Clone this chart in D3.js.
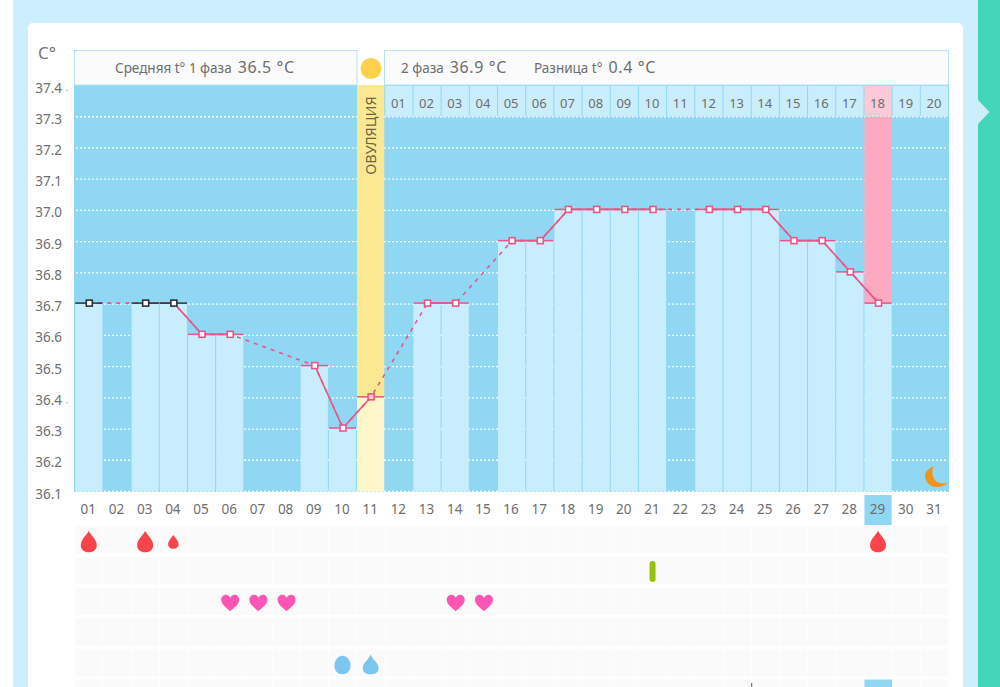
<!DOCTYPE html>
<html>
<head>
<meta charset="utf-8">
<script src="https://cdn.jsdelivr.net/npm/d3@7"></script>
<style>
  html, body { margin: 0; padding: 0; background: #fff; overflow: hidden; }
  text { font-family: "Noto Sans", sans-serif; fill: #6e6e6e; }
</style>
</head>
<body>
<div id="chart"></div>
<script>
const svgWidth = 1000
const svgHeight = 687

// Values
const days = d3.range(1, 32).map(d => String(d).padStart(2, "0"))
const temps = [36.7, null, 36.7, 36.7, 36.6, 36.6, null, null, 36.5, 36.3, 36.4, null, 36.7, 36.7, null,
  36.9, 36.9, 37.0, 37.0, 37.0, 37.0, null, 37.0, 37.0, 37.0, 36.9, 36.9, 36.8, 36.7, null, null]
const excludedDays = ["01", "03", "04"]
const yTicks = [37.4, 37.3, 37.2, 37.1, 37.0, 36.9, 36.8, 36.7, 36.6, 36.5, 36.4, 36.3, 36.2, 36.1]
const cycleDays = d3.range(1, 21).map(d => String(d).padStart(2, "0"))
const ovulationDay = "11"
const peakDay = "29"
const peakCycleDay = "18"
const todayDay = "31"

// Symptom rows under the chart: [day, size]
const rows = ["flow", "test", "sex", "other", "mucus", "extra"]
const flowMarks = [["01", 1], ["03", 1], ["04", 0.65], ["29", 1]]
const testMarks = [["21", 1]]
const sexMarks = [["06", 1], ["07", 1], ["08", 1], ["14", 1], ["15", 1]]
const mucusRound = [["10", 1]]
const mucusDrop = [["11", 1]]

const colors = {
  page: "#cdeefd",
  teal: "#43d6bc",
  plot: "#8fd7f3",
  bar: "#c8edfc",
  cell: "#c9edfb",
  header: "#fbfbfb",
  line: "#e8578a",
  black: "#2b3238",
  pink: "#fda9c0",
  pinkLight: "#fdc9d6",
  yellow: "#fbe992",
  yellowLight: "#fdf6c9",
  sun: "#fdd14c",
  flow: "#f9444a",
  heart: "#fb55b5",
  mucus: "#7cc5f1",
  test: "#95c20c",
  moon: "#f0921c",
  grid: "#fafafa"
}

let svg = d3.select("#chart").append("svg")
  .attr("width", svgWidth)
  .attr("height", svgHeight)
  .style("display", "block")

let x = d3.scaleBand().domain(days).range([75.2, 949])
let y = d3.scaleLinear().domain([36.1, 37.4]).range([491.5, 85.5])
let rowY = d3.scaleBand().domain(rows).range([526, 526 + 6 * 30.7])
let cx = d => x(d) + x.bandwidth() / 2

// Page panels
svg.append("rect").attr("x", 13).attr("y", 0).attr("width", 965).attr("height", svgHeight).attr("fill", colors.page)
svg.append("rect").attr("x", 978).attr("y", 0).attr("width", 22).attr("height", svgHeight).attr("fill", colors.teal)
svg.append("path").attr("d", "M978,100L989.5,112L978,124Z").attr("fill", colors.page)
svg.append("rect").attr("x", 28).attr("y", 23).attr("width", 935).attr("height", 700).attr("rx", 5).attr("fill", "#fff")

// Plot background and gridlines
svg.append("rect").attr("x", 74).attr("y", 85).attr("width", 875).attr("height", 407).attr("fill", colors.plot)

svg.append("g").selectAll("line")
  .data(yTicks.filter(d => d < 37.4))
  .enter()
  .append("line")
  .attr("x1", 76)
  .attr("x2", 948)
  .attr("y1", d => y(d))
  .attr("y2", d => y(d))
  .attr("stroke", "#fff")
  .attr("stroke-opacity", 0.9)
  .attr("stroke-width", 1.3)
  .attr("stroke-dasharray", "2 2")

// Ovulation and peak columns
svg.append("rect").attr("x", x(ovulationDay)).attr("y", 85).attr("width", x.bandwidth() - 1)
  .attr("height", y(36.4) - 85).attr("fill", colors.yellow)
svg.append("rect").attr("x", x(ovulationDay)).attr("y", y(36.4)).attr("width", x.bandwidth() - 1)
  .attr("height", y(36.1) - y(36.4)).attr("fill", colors.yellowLight)
svg.append("rect").attr("x", x(peakDay)).attr("y", 117).attr("width", x.bandwidth() - 1)
  .attr("height", y(36.7) - 117).attr("fill", colors.pink)

// Bars under the temperature
let barData = days.map((d, i) => ({ day: d, temp: temps[i] }))
  .filter(d => d.temp !== null && d.day !== ovulationDay)

svg.append("g").selectAll("rect")
  .data(barData)
  .enter()
  .append("rect")
  .attr("x", d => x(d.day))
  .attr("y", d => y(d.temp) - 1)
  .attr("width", x.bandwidth() - 1)
  .attr("height", d => y(36.1) - y(d.temp) + 1)
  .attr("fill", colors.bar)

// Header boxes
let headerBox = (left, right) => svg.append("rect")
  .attr("x", left).attr("y", 50.5).attr("width", right - left).attr("height", 34.5)
  .attr("fill", colors.header).attr("stroke", "#b5e3f4").attr("stroke-width", 1)
headerBox(74.5, 357)
headerBox(384.5, 948.5)
svg.append("circle").attr("cx", 371).attr("cy", 68.5).attr("r", 10.5).attr("fill", colors.sun)

let headerText = (xPos, label, value) => {
  let t = svg.append("text").attr("x", xPos).attr("y", 73).style("font-size", "13.5px")
  t.append("tspan").text(label)
  t.append("tspan").attr("dx", 6).style("font-size", "16px").style("letter-spacing", "0.6px").text(value)
}
headerText(115, "Средняя t° 1 фаза", "36.5 °C")
headerText(401, "2 фаза", "36.9 °C")
headerText(534, "Разница t°", "0.4 °C")

svg.append("text")
  .attr("transform", `translate(375.5,135.5) rotate(-90)`)
  .attr("text-anchor", "middle")
  .style("font-size", "14.5px")
  .style("fill", "#6b6648")
  .text("ОВУЛЯЦИЯ")

// Cycle day strip along the top
let cycleX = d3.scaleBand().domain(cycleDays).range([x("12"), 949])

svg.append("g").selectAll("rect")
  .data(cycleDays)
  .enter()
  .append("rect")
  .attr("x", d => cycleX(d))
  .attr("y", 86)
  .attr("width", cycleX.bandwidth() - 1)
  .attr("height", 30.5)
  .attr("fill", d => d === peakCycleDay ? colors.pinkLight : colors.cell)

svg.append("g").selectAll("text")
  .data(cycleDays)
  .enter()
  .append("text")
  .attr("x", d => cycleX(d) + cycleX.bandwidth() / 2 - 1)
  .attr("y", 108)
  .attr("text-anchor", "middle")
  .style("font-size", "13px")
  .text(d => d)

// Left axis labels
svg.append("text").attr("x", 38).attr("y", 59).style("font-size", "17px").style("fill", "#777").text("C°")

svg.append("g").selectAll("text")
  .data(yTicks)
  .enter()
  .append("text")
  .attr("x", 62)
  .attr("y", d => y(d) + 7)
  .attr("text-anchor", "end")
  .style("font-size", "13.5px")
  .text(d => d.toFixed(1))

// Little specks beside two of the labels
svg.append("g").selectAll("circle")
  .data([37.4, 36.4])
  .enter()
  .append("circle")
  .attr("cx", 67)
  .attr("cy", d => y(d) + 5)
  .attr("r", 0.8)
  .attr("fill", "#aaa")

// Bottom day labels
svg.append("rect").attr("x", x(peakDay)).attr("y", 495).attr("width", x.bandwidth() - 1).attr("height", 30).attr("fill", colors.plot)

svg.append("g").selectAll("text")
  .data(days)
  .enter()
  .append("text")
  .attr("x", d => cx(d) - 1)
  .attr("y", 514)
  .attr("text-anchor", "middle")
  .style("font-size", "13.5px")
  .text(d => d)

// Symptom grid
let cells = rows.flatMap(r => days.map(d => ({ row: r, day: d })))

svg.append("g").selectAll("rect")
  .data(cells)
  .enter()
  .append("rect")
  .attr("x", d => x(d.day))
  .attr("y", d => rowY(d.row))
  .attr("width", x.bandwidth() - 0.6)
  .attr("height", rowY.bandwidth() - 3)
  .attr("fill", d => d.row === "extra" && d.day === peakDay ? colors.plot : colors.grid)

svg.append("line").attr("x1", x("25")).attr("x2", x("25")).attr("y1", 683).attr("y2", 687)
  .attr("stroke", "#555").attr("stroke-width", 1)

// Temperature line: dashed across skipped days, solid between neighbours
let points = days.map((d, i) => ({ day: d, temp: temps[i] }))

let line = d3.line()
  .x(d => cx(d.day))
  .y(d => y(d.temp) - 1)

let solidLine = d3.line()
  .defined(d => d.temp !== null)
  .x(d => cx(d.day))
  .y(d => y(d.temp) - 1)

svg.append("path")
  .attr("d", line(points.filter(d => d.temp !== null)))
  .attr("fill", "none")
  .attr("stroke", colors.line)
  .attr("stroke-width", 1.6)
  .attr("stroke-dasharray", "4 5")

svg.append("path")
  .attr("d", solidLine(points))
  .attr("fill", "none")
  .attr("stroke", colors.line)
  .attr("stroke-width", 1.6)

let known = points.filter(d => d.temp !== null)
let pointColor = d => excludedDays.includes(d.day) ? colors.black : colors.line

svg.append("g").selectAll("line")
  .data(known)
  .enter()
  .append("line")
  .attr("x1", d => x(d.day))
  .attr("x2", d => x(d.day) + x.bandwidth() - 1)
  .attr("y1", d => y(d.temp) - 1)
  .attr("y2", d => y(d.temp) - 1)
  .attr("stroke", pointColor)
  .attr("stroke-width", 1.5)

svg.append("g").selectAll("rect")
  .data(known)
  .enter()
  .append("rect")
  .attr("x", d => cx(d.day) - 3)
  .attr("y", d => y(d.temp) - 4)
  .attr("width", 6)
  .attr("height", 6)
  .attr("fill", d => d.day === ovulationDay ? "#fbc7c0" : "#fff")
  .attr("stroke", pointColor)
  .attr("stroke-width", 1.6)

// Icons
const dropPath = "M0,-11.5C1.5,-7.5 8,-3 8,3C8,7.5 4.5,10 0,10C-4.5,10 -8,7.5 -8,3C-8,-3 -1.5,-7.5 0,-11.5Z"
const heartPath = "M0,8.5C-3,5.5 -9,2 -9,-3C-9,-6.5 -6.5,-8 -4.5,-8C-2.5,-8 -1,-7 0,-5C1,-7 2.5,-8 4.5,-8C6.5,-8 9,-6.5 9,-3C9,2 3,5.5 0,8.5Z"
const roundPath = "M0,-9.5C4.5,-9.5 8,-5 8,0.5C8,6 4.5,9 0,9C-4.5,9 -8,6 -8,0.5C-8,-5 -4.5,-9.5 0,-9.5Z"
const mucusDropPath = "M0,-11C1,-6 8,-3 8,3C8,7 4.5,9 0,9C-4.5,9 -8,7 -8,3C-8,-3 -1,-6 0,-11Z"

let drawIcons = (data, row, path, fill, dx, dy) => {
  svg.append("g").selectAll("path")
    .data(data)
    .enter()
    .append("path")
    .attr("transform", d => `translate(${cx(d[0]) + dx},${rowY(row) + rowY.bandwidth() / 2 + dy}) scale(${d[1]})`)
    .attr("d", path)
    .attr("fill", fill)
}

drawIcons(flowMarks, "flow", dropPath, colors.flow, -0.5, 1)
drawIcons(sexMarks, "sex", heartPath, colors.heart, 0, 0)
drawIcons(mucusRound, "mucus", roundPath, colors.mucus, -0.5, 1)
drawIcons(mucusDrop, "mucus", mucusDropPath, colors.mucus, -0.5, 1)

svg.append("g").selectAll("rect")
  .data(testMarks)
  .enter()
  .append("rect")
  .attr("x", d => cx(d[0]) - 3.5)
  .attr("y", d => rowY("test") + rowY.bandwidth() / 2 - 11)
  .attr("width", 6)
  .attr("height", 21)
  .attr("rx", 3)
  .attr("fill", colors.test)

// Moon on the last day
svg.append("path")
  .attr("transform", `translate(${cx(todayDay) + 1.5},477.5)`)
  .attr("d", "M-3,-11C-11,-8 -13,-2 -10,3.5C-7,10 4,12.5 12,5C5,7.5 -1,5 -3,0C-4.5,-3.5 -4.5,-7 -3,-11Z")
  .attr("fill", colors.moon)
</script>
</body>
</html>
